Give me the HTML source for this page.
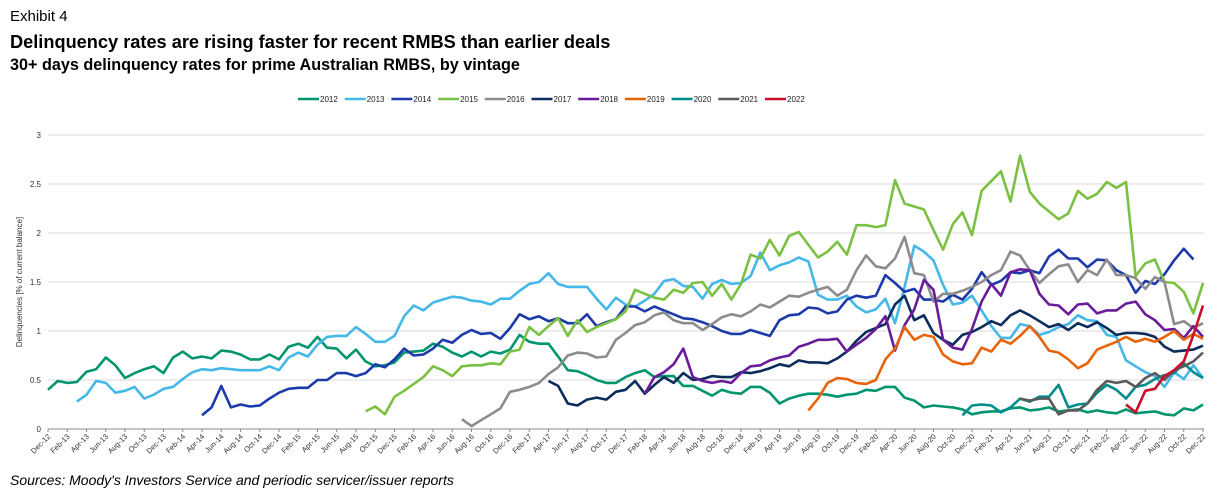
<!DOCTYPE html>
<html><head><meta charset="utf-8">
<style>
body{margin:0;background:#fff;width:1220px;height:504px;overflow:hidden;font-family:"Liberation Sans",sans-serif;}
.t{position:absolute;white-space:nowrap;color:#000;}
</style></head>
<body>
<div class="t" style="left:10px;top:8px;font-size:15px;">Exhibit 4</div>
<div class="t" style="left:10px;top:32px;font-size:18.2px;font-weight:bold;">Delinquency rates are rising faster for recent RMBS than earlier deals</div>
<div class="t" style="left:10px;top:56px;font-size:16.2px;font-weight:bold;">30+ days delinquency rates for prime Australian RMBS, by vintage</div>
<div class="t" style="left:10px;top:472px;font-size:14px;font-style:italic;">Sources: Moody's Investors Service and periodic servicer/issuer reports</div>
<svg id="chart" width="1220" height="504" style="position:absolute;left:0;top:0;" xmlns="http://www.w3.org/2000/svg"></svg>
<script>
const vintages=["2012","2013","2014","2015","2016","2017","2018","2019","2020","2021","2022"];
const colors=["#00956e","#44b8e8","#1c3aa9","#7ac143","#8c8c8c","#0c2c5c","#6a1b9a","#e8630a","#008b8b","#5a5a5a","#c8102e"];
const startIdx=[0,3,16,33,43,52,62,79,95,101,112];
const yTicks=[0,0.5,1,1.5,2,2.5,3];
const s2012=[0.40,0.49,0.47,0.48,0.585,0.61,0.73,0.65,0.52,0.57,0.61,0.64,0.57,0.73,0.79,0.72,0.74,0.72,0.80,0.79,0.76,0.71,0.71,0.76,0.71,0.84,0.87,0.83,0.94,0.83,0.82,0.72,0.81,0.69,0.64,0.65,0.68,0.78,0.79,0.80,0.87,
0.84,0.78,0.74,0.79,0.74,0.79,0.77,0.81,0.96,0.89,0.87,0.87,0.74,0.60,0.59,0.55,0.50,0.47,0.47,0.53,0.57,0.60,0.53,0.54,0.54,0.44,0.44,0.39,0.34,0.40,0.37,0.36,0.43,0.43,0.37,0.26,0.31,0.34,0.36,
0.36,0.35,0.33,0.35,0.36,0.40,0.39,0.43,0.43,0.32,0.29,0.22,0.24,0.23,0.22,0.20,0.15,0.17,0.18,0.18,0.21,0.22,0.19,0.20,0.22,0.18,0.19,0.20,0.17,0.19,0.17,0.16,0.20,0.16,0.17,0.18,0.15,0.14,0.21,0.19,0.25];
const s2013=[0.28,0.35,0.49,0.47,0.37,0.39,0.43,0.31,0.35,0.41,0.43,0.51,0.58,0.61,0.60,0.62,0.61,0.60,0.60,0.60,0.64,0.60,0.73,0.78,0.74,0.86,0.94,0.95,0.95,1.04,0.97,0.89,0.89,0.95,1.15,1.26,1.21,1.29,
1.32,1.35,1.34,1.31,1.30,1.27,1.33,1.33,1.41,1.48,1.50,1.59,1.48,1.45,1.45,1.45,1.33,1.22,1.34,1.27,1.25,1.31,1.38,1.51,1.53,1.46,1.45,1.33,1.48,1.52,1.48,1.49,1.56,1.80,1.62,1.67,1.70,1.75,1.71,
1.37,1.32,1.32,1.36,1.25,1.19,1.22,1.33,1.08,1.45,1.87,1.81,1.72,1.47,1.27,1.29,1.36,1.21,1.05,0.93,0.93,1.07,1.05,0.96,0.99,1.04,1.07,1.16,1.11,1.10,0.96,0.94,0.70,0.64,0.58,0.54,0.43,0.58,0.51,0.65,0.52];
const s2014=[0.14,0.22,0.44,0.22,0.25,0.23,0.24,0.31,0.37,0.41,0.42,0.42,0.50,0.50,0.57,0.57,0.54,0.57,0.66,0.63,0.71,0.82,0.75,0.76,0.82,
0.91,0.88,0.96,1.01,0.97,0.98,0.92,1.03,1.17,1.12,1.15,1.10,1.13,1.08,1.08,1.17,1.05,1.09,1.12,1.25,1.25,1.20,1.25,1.21,1.17,1.13,1.12,1.09,1.05,1.00,0.97,0.97,1.01,0.98,0.95,1.11,1.16,1.17,
1.24,1.23,1.18,1.20,1.32,1.36,1.34,1.36,1.57,1.49,1.40,1.43,1.32,1.32,1.30,1.37,1.32,1.43,1.60,1.47,1.51,1.60,1.59,1.62,1.59,1.76,1.83,1.74,1.74,1.65,1.73,1.72,1.62,1.57,1.39,1.51,1.48,1.58,1.72,1.84,1.73];
const s2015=[0.18,0.23,0.15,0.33,0.39,0.46,0.53,0.64,
0.60,0.54,0.64,0.65,0.65,0.67,0.66,0.79,0.81,1.04,0.96,1.05,1.13,0.95,1.11,0.99,1.04,1.08,1.12,1.20,1.42,1.38,1.34,1.32,1.42,1.39,1.49,1.50,1.36,1.48,1.32,1.48,1.78,1.74,1.93,1.77,1.97,2.01,1.88,
1.75,1.81,1.91,1.78,2.08,2.08,2.06,2.08,2.54,2.30,2.27,2.24,2.03,1.83,2.09,2.21,1.98,2.43,2.53,2.63,2.32,2.79,2.42,2.30,2.22,2.14,2.20,2.43,2.35,2.40,2.52,2.46,2.52,1.56,1.69,1.73,1.50,1.49,1.40,1.18,1.49];
const s2016=[0.10,0.03,0.09,0.15,0.21,0.38,0.40,0.43,0.47,0.56,0.63,0.75,0.78,0.77,0.73,0.74,0.91,0.98,1.06,1.09,1.16,1.19,1.11,1.08,1.08,1.01,1.07,1.14,1.17,1.15,1.20,1.27,1.24,1.30,1.36,1.35,1.39,
1.42,1.45,1.36,1.42,1.62,1.77,1.66,1.64,1.74,1.96,1.59,1.57,1.30,1.38,1.38,1.41,1.45,1.50,1.57,1.62,1.81,1.77,1.62,1.49,1.58,1.66,1.68,1.50,1.62,1.57,1.73,1.57,1.57,1.54,1.43,1.55,1.50,1.07,1.10,1.03,1.08];
const s2017=[0.49,0.44,0.26,0.24,0.30,0.32,0.30,0.38,0.40,0.49,0.36,0.45,0.53,0.47,0.57,0.50,0.51,0.54,0.53,0.53,0.58,0.57,0.59,0.62,0.66,0.64,0.70,0.68,
0.68,0.67,0.72,0.79,0.90,0.99,1.03,1.07,1.27,1.36,1.11,1.16,0.98,0.91,0.86,0.96,0.99,1.04,1.10,1.06,1.16,1.21,1.16,1.10,1.04,1.07,1.01,1.08,1.04,1.09,1.03,0.96,0.98,0.98,0.97,0.94,0.84,0.79,0.80,0.81,0.85];
const s2018=[0.36,0.53,0.58,0.66,0.82,0.53,0.49,0.47,0.49,0.47,0.57,0.64,0.65,0.70,0.73,0.75,0.84,0.87,
0.91,0.91,0.92,0.79,0.86,0.93,1.02,1.15,0.80,1.06,1.22,1.52,1.42,0.91,0.83,0.81,1.02,1.30,1.48,1.36,1.60,1.63,1.62,1.38,1.27,1.26,1.17,1.27,1.28,1.18,1.21,1.21,1.28,1.30,1.17,1.11,1.01,1.02,0.93,1.05,0.94];
const s2019=[0.19,0.31,0.47,0.52,0.51,0.47,0.46,0.50,0.71,0.82,1.04,0.91,0.96,0.94,0.76,0.69,0.66,0.67,0.83,0.79,0.91,0.87,0.95,1.05,0.94,0.80,0.78,0.71,0.62,0.67,0.81,0.85,0.89,0.94,0.89,0.92,0.89,0.94,1.00,0.91,0.97,0.92];
const s2020=[0.14,0.24,0.25,0.24,0.17,0.22,0.31,0.28,0.33,0.33,0.45,0.22,0.25,0.26,0.37,0.45,0.40,0.31,0.43,0.45,0.51,0.55,0.57,0.67,0.58,0.52];
const s2021=[0.31,0.29,0.31,0.31,0.15,0.19,0.19,0.26,0.40,0.49,0.47,0.49,0.43,0.52,0.57,0.50,0.60,0.64,0.69,0.78];
const s2022=[0.25,0.17,0.39,0.41,0.54,0.60,0.69,0.96,1.26];
const series=[s2012,s2013,s2014,s2015,s2016,s2017,s2018,s2019,s2020,s2021,s2022];
const months=["Dec","Jan","Feb","Mar","Apr","May","Jun","Jul","Aug","Sep","Oct","Nov"];
const NS="http://www.w3.org/2000/svg";
const svg=document.getElementById("chart");
const X0=48,DX=9.625,Y0=429,PY=98;
function xs(i){return X0+i*DX;}
function ys(v){return Y0-v*PY;}
function mk(tag,attrs){const e=document.createElementNS(NS,tag);for(const k in attrs)e.setAttribute(k,attrs[k]);svg.appendChild(e);return e;}
yTicks.forEach(v=>{
  if(v>0){const g=mk("line",{x1:X0,x2:1204,y1:ys(v),y2:ys(v),stroke:"#d9d9d9","stroke-width":1});
  
  }
  const t=mk("text",{x:41,y:ys(v)+3,"font-size":8,"text-anchor":"end",fill:"#333","font-family":"Liberation Sans, sans-serif"});
  t.textContent=String(v);
  
  
});
const ax=mk("line",{x1:X0,x2:1204,y1:Y0,y2:Y0,stroke:"#888","stroke-width":1});


for(let i=0;i<=120;i+=2){
  const m=months[i%12];const yr=12+Math.floor((i+11)/12);
  const tk=mk("line",{x1:xs(i),x2:xs(i),y1:Y0,y2:Y0+3,stroke:"#888","stroke-width":1});
  
  
  const x=xs(i)+3,y=Y0+8;
  const t=mk("text",{x:x,y:y,"font-size":7.5,"text-anchor":"end",fill:"#333",transform:`rotate(-45 ${x} ${y})`,"font-family":"Liberation Sans, sans-serif"});
  t.textContent=m+"-"+yr;
  
  
}
const yt=mk("text",{x:22,y:282,"font-size":8,"text-anchor":"middle",fill:"#333",transform:"rotate(-90 22 282)","font-family":"Liberation Sans, sans-serif"});
yt.textContent="Delinquencies [% of current balance]";


series.forEach((arr,k)=>{
  const pts=arr.map((v,j)=>xs(startIdx[k]+j).toFixed(1)+","+ys(v).toFixed(1)).join(" ");
  const p=mk("polyline",{points:pts,fill:"none",stroke:colors[k],"stroke-width":2.6,"stroke-linejoin":"round"});
  
  
});
vintages.forEach((v,k)=>{
  const lx=298+k*46.7;
  const l=mk("line",{x1:lx,x2:lx+21,y1:99,y2:99,stroke:colors[k],"stroke-width":2.6});
  
  
  const t=mk("text",{x:lx+22,y:102,"font-size":8,fill:"#222","font-family":"Liberation Sans, sans-serif"});
  t.textContent=v;
  
  
});
</script>
</body></html>
